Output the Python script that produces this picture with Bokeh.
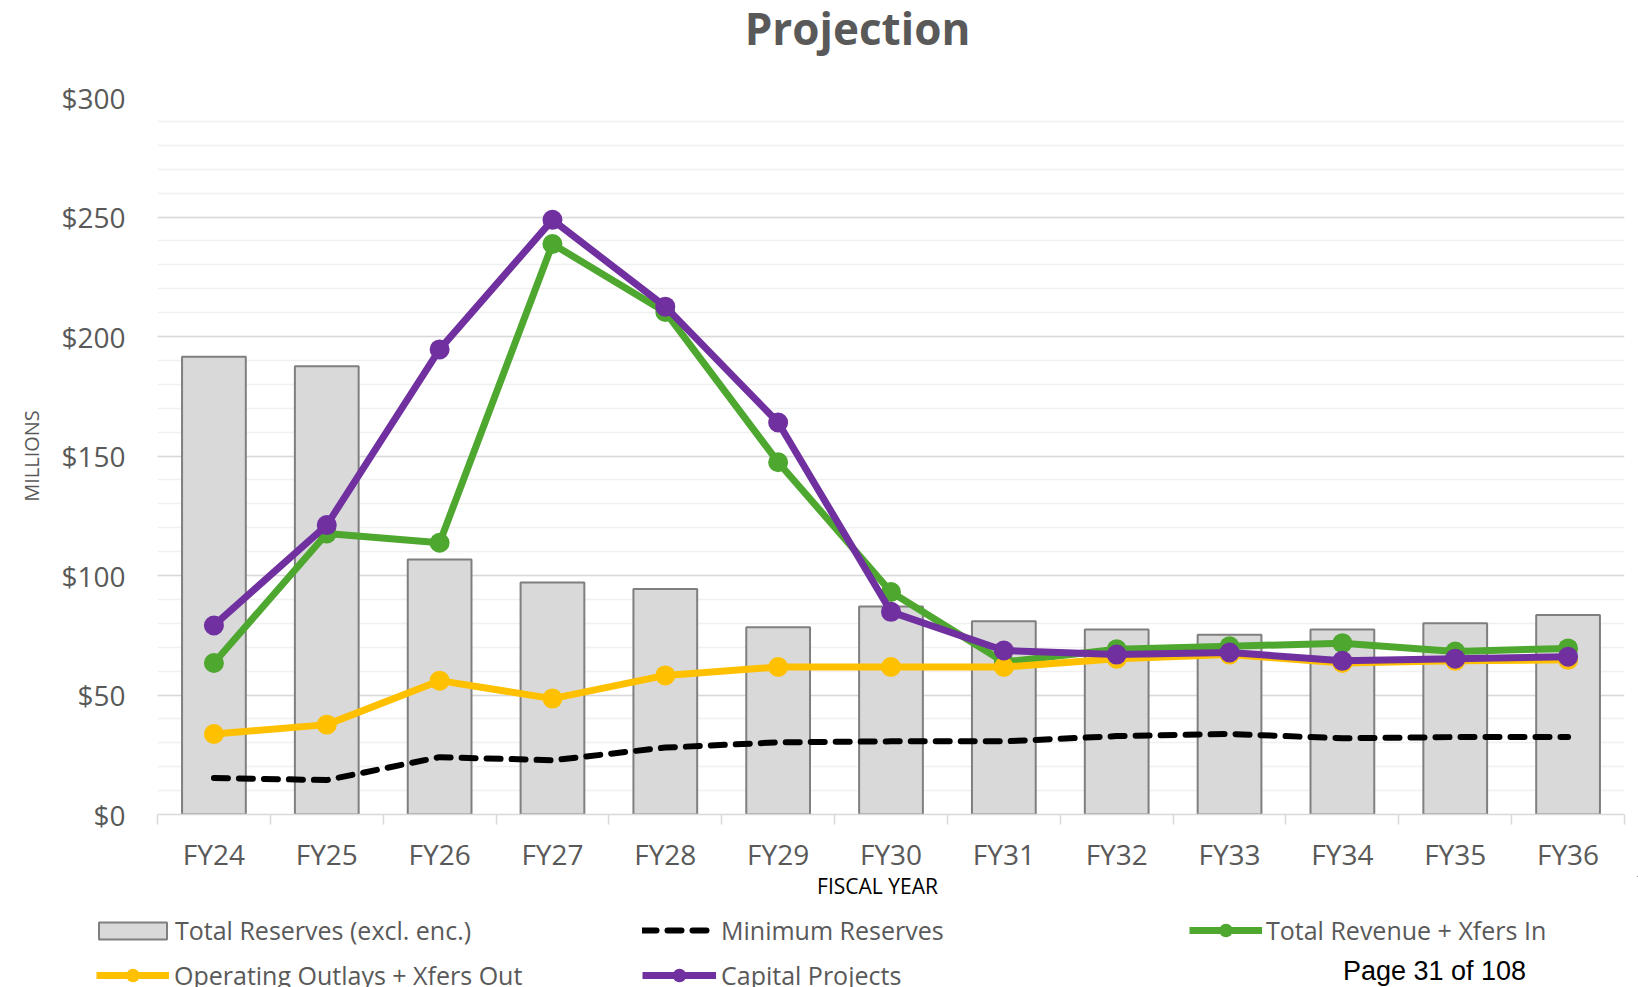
import numpy as np
from bokeh.plotting import figure
from bokeh.layouts import column
from bokeh.models import (Range1d, LinearAxis, FixedTicker, SingleIntervalTicker,
                          NumeralTickFormatter, Label, Legend, LegendItem, ColumnDataSource)
from bokeh.embed import file_html
from bokeh.resources import INLINE

# ---- data (millions of dollars) ----
years = ["FY24", "FY25", "FY26", "FY27", "FY28", "FY29", "FY30",
         "FY31", "FY32", "FY33", "FY34", "FY35", "FY36"]
total_reserves = [191.5, 187.6, 106.7, 97.1, 94.4, 78.3, 87.0, 80.9, 77.4, 75.2, 77.4, 80.0, 83.5]
minimum_reserves = [15.3, 14.4, 24.0, 22.7, 28.0, 30.2, 30.6, 30.6, 32.8, 33.7, 31.9, 32.4, 32.4]
total_revenue = [63.4, 117.6, 113.7, 238.7, 210.3, 147.4, 93.1, 63.8, 69.1, 70.4, 71.7, 68.2, 69.5]
operating_outlays = [33.7, 37.6, 56.0, 48.5, 58.2, 61.7, 61.7, 61.7, 65.2, 66.9, 63.4, 64.3, 64.7]
capital_projects = [79.1, 121.1, 194.6, 248.8, 212.5, 164.0, 84.8, 68.6, 66.9, 67.8, 64.3, 65.2, 66.0]
y_max = 300
y_step = 50

FONT = "Open Sans"
GREY_TXT = "#595959"
GREEN = "#4EA72E"
PURPLE = "#7030A0"
ORANGE = "#FFC000"
BAR_FILL = "#D9D9D9"
BAR_LINE = "#7F7F7F"
W = 1638
TOP_H, MAIN_H, BOT_H = 62, 814, 111

n = len(years)
xpos = list(range(n))
src = ColumnDataSource(dict(x=xpos, reserves=total_reserves, minimum=minimum_reserves,
                            revenue=total_revenue, outlays=operating_outlays,
                            capital=capital_projects))

BAR_KW = dict(fill_color=BAR_FILL, line_color=BAR_LINE, line_width=2)
MIN_KW = dict(line_color="black", line_width=6, line_dash="14 11", line_cap="round")
LINE_W = 7
MK = 20


def strip(height):
    # frame covers the whole strip; ranges chosen so that legend-swatch
    # renderers (which share the chart data) stay outside the visible area
    s = figure(width=W, height=height, x_range=Range1d(-20, -10), y_range=Range1d(-20, -10),
               output_backend="svg", toolbar_location=None, x_axis_location=None,
               y_axis_location=None, min_border=0, outline_line_color=None,
               background_fill_color="white", border_fill_color="white",
               frame_align=False)
    s.grid.visible = False
    return s


def page_label(fig, fig_top, fig_h, x, y, **kw):
    # x, y in page pixels (from top-left); converted to strip screen units
    fig.add_layout(Label(x=x, y=fig_h - (y - fig_top), x_units="screen", y_units="screen",
                         text_align="center", text_baseline="middle", **kw))


# ---------- title strip ----------
top = strip(TOP_H)
page_label(top, 0, TOP_H, 857, 27, text="Projection", text_font=FONT,
           text_font_style="bold", text_font_size="44px", text_color=GREY_TXT)

# ---------- main chart ----------
p = figure(width=W, height=MAIN_H, x_range=Range1d(-0.5, n - 0.5), y_range=Range1d(0, y_max),
           output_backend="svg", toolbar_location=None, x_axis_location=None,
           min_border_left=157, min_border_right=14, min_border_top=35, min_border_bottom=62,
           outline_line_color=None, background_fill_color="white", border_fill_color="white",
           frame_align=False)

yt = SingleIntervalTicker(interval=y_step, num_minor_ticks=5)
p.yaxis.ticker = yt
p.ygrid.ticker = yt
p.yaxis.formatter = NumeralTickFormatter(format="$0")
p.yaxis.axis_line_color = None
p.yaxis.major_tick_line_color = None
p.yaxis.minor_tick_line_color = None
p.yaxis.major_label_text_font = FONT
p.yaxis.major_label_text_font_size = "28px"
p.yaxis.major_label_text_color = GREY_TXT
p.yaxis.major_label_standoff = 26
p.yaxis.axis_label = "MILLIONS"
p.yaxis.axis_label_text_font = FONT
p.yaxis.axis_label_text_font_size = "20px"
p.yaxis.axis_label_text_font_style = "normal"
p.yaxis.axis_label_text_color = GREY_TXT
p.yaxis.axis_label_standoff = 13
p.ygrid.grid_line_color = "#D9D9D9"
p.ygrid.grid_line_width = 1.5
p.ygrid.minor_grid_line_color = "#F0F0F0"
p.ygrid.minor_grid_line_width = 1.5
p.xgrid.visible = False

tick_axis = LinearAxis(ticker=FixedTicker(ticks=[i - 0.5 for i in range(n + 1)]),
                       axis_line_color="#D9D9D9", axis_line_width=1.5,
                       major_tick_line_color="#D9D9D9", major_tick_line_width=1.5,
                       major_tick_in=0, major_tick_out=10, minor_tick_line_color=None,
                       major_label_text_font_size="0px", major_label_standoff=0)
p.add_layout(tick_axis, "below")
lab_axis = LinearAxis(ticker=FixedTicker(ticks=xpos),
                      major_label_overrides={i: years[i] for i in xpos},
                      axis_line_color=None, major_tick_line_color=None,
                      minor_tick_line_color=None, major_label_text_font=FONT,
                      major_label_text_font_size="28px", major_label_text_color=GREY_TXT,
                      major_label_standoff=4)
p.add_layout(lab_axis, "below")

p.vbar(x="x", top="reserves", width=0.565, source=src, **BAR_KW)
p.line("x", "minimum", source=src, **MIN_KW)
p.line("x", "revenue", source=src, line_color=GREEN, line_width=LINE_W)
p.scatter("x", "revenue", source=src, size=MK, fill_color=GREEN, line_color=None)
p.line("x", "outlays", source=src, line_color=ORANGE, line_width=LINE_W)
p.scatter("x", "outlays", source=src, size=MK, fill_color=ORANGE, line_color=None)
p.line("x", "capital", source=src, line_color=PURPLE, line_width=LINE_W)
p.scatter("x", "capital", source=src, size=MK, fill_color=PURPLE, line_color=None)

# ---------- legend / footer strip ----------
BOT_TOP = TOP_H + MAIN_H
bot = strip(BOT_H)
page_label(bot, BOT_TOP, BOT_H, 877, 885, text="FISCAL YEAR", text_font=FONT,
           text_font_size="21px", text_color="black")
page_label(bot, BOT_TOP, BOT_H, 1434, 970, text="Page 31 of 108",
           text_font="Liberation Sans", text_font_size="27px", text_color="black")

# legend swatch renderers: same data, outside this strip's visible ranges
lg_bar = bot.vbar(x="x", top="reserves", width=0.565, source=src, **BAR_KW)
lg_min = bot.line("x", "minimum", source=src, **MIN_KW)
lg_rev = [bot.line("x", "revenue", source=src, line_color=GREEN, line_width=LINE_W),
          bot.scatter("x", "revenue", source=src, fill_color=GREEN, line_color=None)]
lg_out = [bot.line("x", "outlays", source=src, line_color=ORANGE, line_width=LINE_W),
          bot.scatter("x", "outlays", source=src, fill_color=ORANGE, line_color=None)]
lg_cap = [bot.line("x", "capital", source=src, line_color=PURPLE, line_width=LINE_W),
          bot.scatter("x", "capital", source=src, fill_color=PURPLE, line_color=None)]

ITEM_H = 34


def add_legend(label, renderers, left, center_y, gw, gh, standoff):
    vx = left
    vy = BOT_H - (center_y - BOT_TOP) - ITEM_H / 2
    leg = Legend(items=[LegendItem(label=label, renderers=renderers)], location=(vx, vy),
                 orientation="vertical", glyph_width=gw, glyph_height=gh,
                 label_height=ITEM_H, label_standoff=standoff, padding=0, margin=0,
                 spacing=0, border_line_color=None, background_fill_alpha=0,
                 label_text_font=FONT, label_text_font_size="25px",
                 label_text_color=GREY_TXT)
    bot.add_layout(leg)


add_legend("Total Reserves (excl. enc.)", [lg_bar], 90, 930, 85, 21, 0)
add_legend("Minimum Reserves", [lg_min], 642, 930, 74, ITEM_H, 5)
add_legend("Total Revenue + Xfers In", lg_rev, 1189, 930, 73, ITEM_H, 4)
add_legend("Operating Outlays + Xfers Out", lg_out, 96, 975, 73, ITEM_H, 5)
add_legend("Capital Projects", lg_cap, 642, 975, 74, ITEM_H, 5)

layout = column(top, p, bot, spacing=0)
open("out.html", "w").write(file_html(layout, INLINE))
